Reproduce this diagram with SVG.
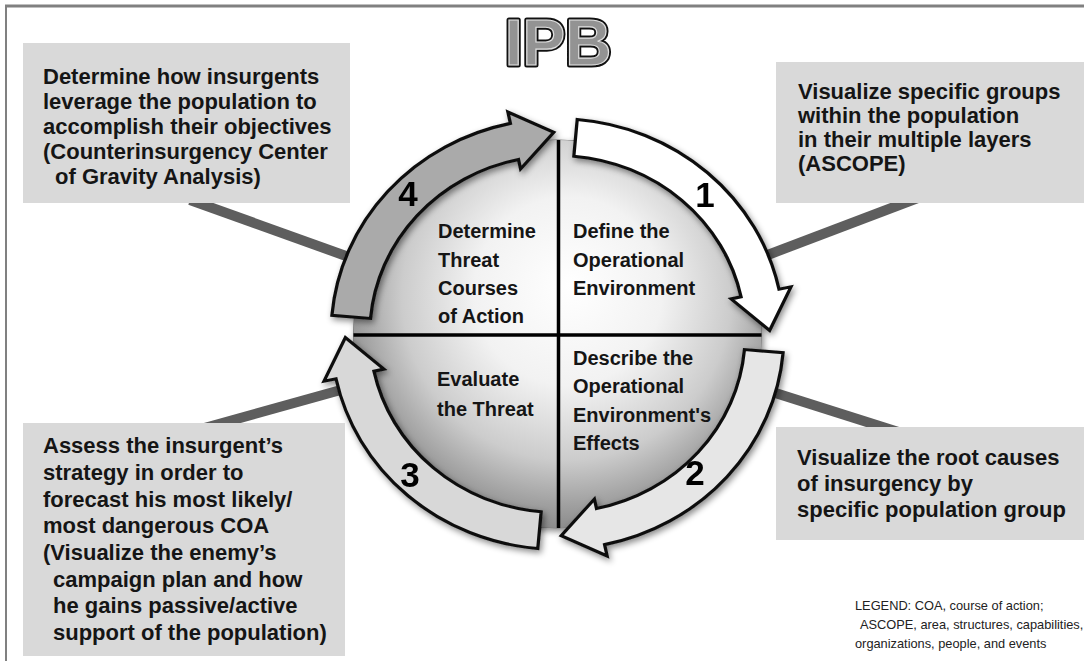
<svg xmlns="http://www.w3.org/2000/svg" width="1084" height="661" viewBox="0 0 1084 661">
<style>
  .box { fill: #d9d9d9; }
  .bt { font-family: "Liberation Sans", Arial, sans-serif; font-weight: bold; font-size: 22px; fill: #151515; }
  .qt { font-family: "Liberation Sans", Arial, sans-serif; font-weight: bold; font-size: 20px; fill: #151515; }
  .num { font-family: "Liberation Sans", Arial, sans-serif; font-weight: bold; font-size: 35px; fill: #000; text-anchor: middle; }
  .lg { font-family: "Liberation Sans", Arial, sans-serif; font-size: 12.8px; fill: #222; }
  .arrow { stroke: #111; stroke-width: 1.6; stroke-linejoin: miter; vector-effect: non-scaling-stroke; }
  .div { stroke: #000; stroke-width: 3.5; }
  .bar { stroke: #5e5e5e; stroke-width: 10; stroke-linecap: butt; }
  .frame { stroke: #808080; fill: none; }
</style>
<defs>
  <radialGradient id="sphere" gradientUnits="userSpaceOnUse" cx="565" cy="300" r="235" fx="570" fy="285">
    <stop offset="0" stop-color="#ffffff"/>
    <stop offset="0.4" stop-color="#f2f2f2"/>
    <stop offset="0.7" stop-color="#cccccc"/>
    <stop offset="0.88" stop-color="#a0a0a0"/>
    <stop offset="1" stop-color="#858585"/>
  </radialGradient>
  <filter id="shadow" x="-20%" y="-20%" width="140%" height="140%">
    <feDropShadow dx="2" dy="3" stdDeviation="3" flood-color="#000" flood-opacity="0.45"/>
  </filter>
  <path id="arrowShape" d="M 9.675 -110.577 A 111 111 0 0 1 108.575 -23.078 L 114.444 -24.325 L 103.984 -1.815 L 85.099 -18.088 L 89.990 -19.128 A 92 92 0 0 0 8.019 -91.650 Z"/>
</defs>

<rect x="0" y="0" width="1084" height="661" fill="#ffffff"/>
<g id="frame">
  <line class="frame" x1="5" y1="6" x2="1084" y2="6" stroke-width="3"/>
  <line class="frame" x1="6" y1="5" x2="6" y2="661" stroke-width="2"/>
</g>

<g id="title">
  <text x="558" y="65" text-anchor="middle" font-family="'Liberation Sans', Arial, sans-serif" font-weight="bold" font-size="64" fill="none" stroke="#111" stroke-width="5" stroke-linejoin="round">IPB</text>
  <text x="558" y="65" text-anchor="middle" font-family="'Liberation Sans', Arial, sans-serif" font-weight="bold" font-size="64" fill="#939393" stroke="#e0e0e0" stroke-width="1.2">IPB</text>
</g>

<g id="connectors">
  <line class="bar" x1="190" y1="200" x2="360" y2="261"/>
  <line class="bar" x1="960" y1="182" x2="765" y2="256"/>
  <line class="bar" x1="760" y1="388" x2="930" y2="442"/>
  <line class="bar" x1="355" y1="386" x2="190" y2="432"/>
</g>

<g id="sphere-shadow" filter="url(#shadow)">
  <ellipse cx="557.5" cy="334" rx="204" ry="194" fill="url(#sphere)" stroke="#666" stroke-width="1"/>
</g>

<g id="q-define">
  <path d="M 557.5 334 L 557.5 140 A 204 194 0 0 1 761.5 334 Z" fill="url(#sphere)"/>
  <text class="qt" x="573" y="238">Define the</text>
  <text class="qt" x="573" y="267">Operational</text>
  <text class="qt" x="573" y="295">Environment</text>
</g>
<g id="q-describe">
  <path d="M 557.5 334 L 761.5 334 A 204 194 0 0 1 557.5 528 Z" fill="url(#sphere)"/>
  <text class="qt" x="573" y="365">Describe the</text>
  <text class="qt" x="573" y="393">Operational</text>
  <text class="qt" x="573" y="422">Environment's</text>
  <text class="qt" x="573" y="450">Effects</text>
</g>
<g id="q-evaluate">
  <path d="M 557.5 334 L 557.5 528 A 204 194 0 0 1 353.5 334 Z" fill="url(#sphere)"/>
  <text class="qt" x="437" y="386">Evaluate</text>
  <text class="qt" x="437" y="416">the Threat</text>
</g>
<g id="q-determine">
  <path d="M 557.5 334 L 353.5 334 A 204 194 0 0 1 557.5 140 Z" fill="url(#sphere)"/>
  <text class="qt" x="438" y="238">Determine</text>
  <text class="qt" x="438" y="267">Threat</text>
  <text class="qt" x="438" y="295">Courses</text>
  <text class="qt" x="438" y="323">of Action</text>
</g>
<g id="dividers">
  <line class="div" x1="353.5" y1="335" x2="761.5" y2="335"/>
  <line class="div" x1="558.5" y1="140" x2="558.5" y2="528"/>
</g>

<g id="arrow-1" filter="url(#shadow)">
  <use href="#arrowShape" class="arrow" fill="#ffffff" transform="translate(557.5 334) scale(2.04 1.94)"/>
  <text class="num" x="705" y="207">1</text>
</g>
<g id="arrow-2" filter="url(#shadow)">
  <use href="#arrowShape" class="arrow" fill="#e6e6e6" transform="translate(557.5 334) scale(2.04 1.94) rotate(90)"/>
  <text class="num" x="695" y="485">2</text>
</g>
<g id="arrow-3" filter="url(#shadow)">
  <use href="#arrowShape" class="arrow" fill="#d8d8d8" transform="translate(557.5 334) scale(2.04 1.94) rotate(180)"/>
  <text class="num" x="410" y="487">3</text>
</g>
<g id="arrow-4" filter="url(#shadow)">
  <use href="#arrowShape" class="arrow" fill="#aaaaaa" transform="translate(557.5 334) scale(2.04 1.94) rotate(270)"/>
  <text class="num" x="408" y="206">4</text>
</g>

<g id="box-tl">
  <rect class="box" x="23" y="43" width="327" height="160"/>
  <text class="bt" x="43" y="84">Determine how insurgents</text>
  <text class="bt" x="43" y="109">leverage the population to</text>
  <text class="bt" x="43" y="134">accomplish their objectives</text>
  <text class="bt" x="43" y="159">(Counterinsurgency Center</text>
  <text class="bt" x="55" y="184">of Gravity Analysis)</text>
</g>
<g id="box-tr">
  <rect class="box" x="776" y="62" width="308" height="141"/>
  <text class="bt" x="798" y="99">Visualize specific groups</text>
  <text class="bt" x="798" y="123">within the population</text>
  <text class="bt" x="798" y="147">in their multiple layers</text>
  <text class="bt" x="798" y="171">(ASCOPE)</text>
</g>
<g id="box-br">
  <rect class="box" x="776" y="427" width="308" height="113"/>
  <text class="bt" x="797" y="465">Visualize the root causes</text>
  <text class="bt" x="797" y="491">of insurgency by</text>
  <text class="bt" x="797" y="517">specific population group</text>
</g>
<g id="box-bl">
  <rect class="box" x="23" y="423" width="322" height="233"/>
  <text class="bt" x="43" y="453">Assess the insurgent’s</text>
  <text class="bt" x="43" y="480">strategy in order to</text>
  <text class="bt" x="43" y="507">forecast his most likely/</text>
  <text class="bt" x="43" y="533">most dangerous COA</text>
  <text class="bt" x="43" y="560">(Visualize the enemy’s</text>
  <text class="bt" x="53" y="587">campaign plan and how</text>
  <text class="bt" x="53" y="613">he gains passive/active</text>
  <text class="bt" x="53" y="640">support of the population)</text>
</g>

<g id="legend">
  <text class="lg" x="855" y="610">LEGEND:  COA, course of action;</text>
  <text class="lg" x="860" y="629">ASCOPE, area, structures, capabilities,</text>
  <text class="lg" x="855" y="648">organizations, people, and events</text>
</g>
</svg>
